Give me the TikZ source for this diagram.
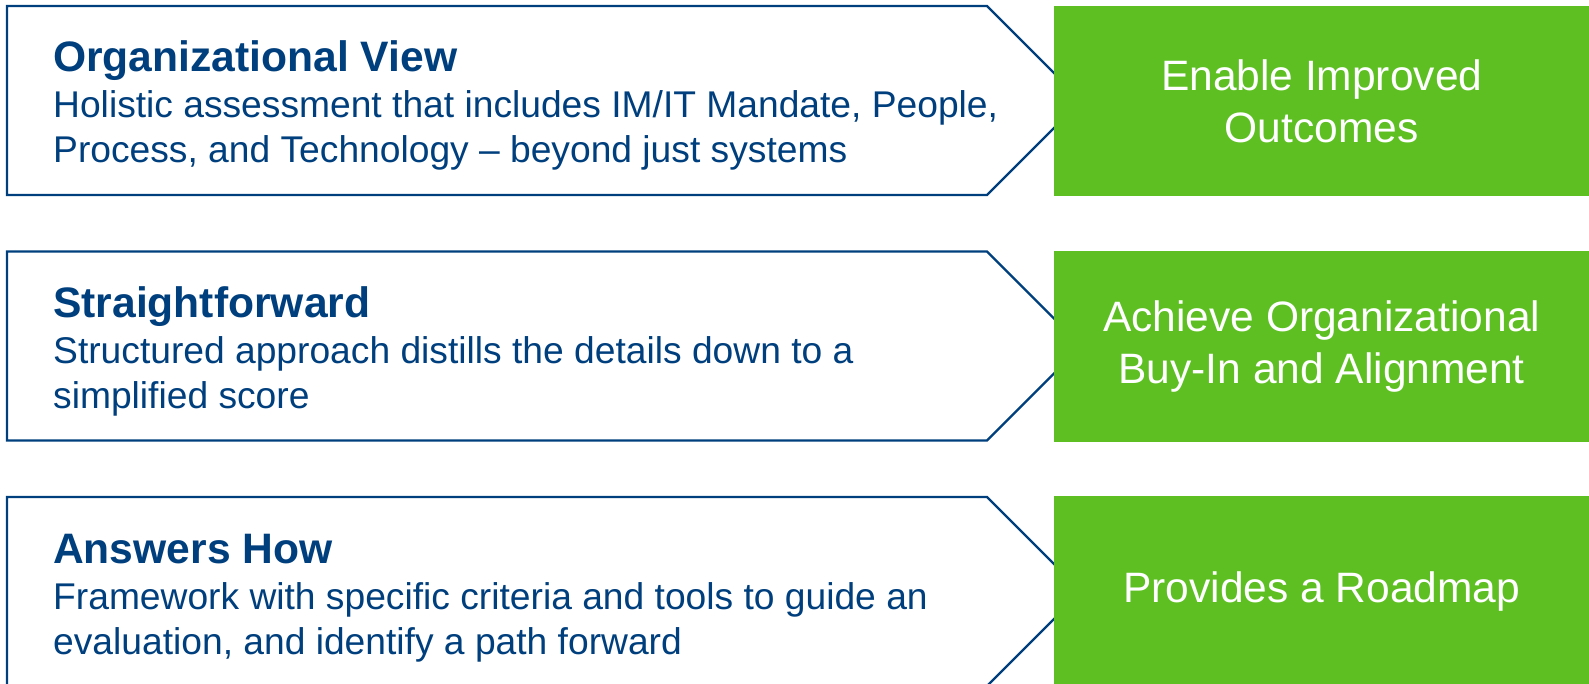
\documentclass[tikz,border=0pt]{standalone}
\usepackage{fontspec}
\setmainfont{Liberation Sans}
\definecolor{navy}{RGB}{0,63,125}
\definecolor{leaf}{RGB}{94,191,34}
\tikzset{
  chev/.style={draw=navy, line width=2.3pt, fill=white, line join=miter},
  ttl/.style={anchor=base west, inner sep=0pt, text=navy, font=\fontsize{42.6}{50}\selectfont\bfseries},
  bdy/.style={anchor=base west, inner sep=0pt, text=navy, font=\fontsize{37.2}{45}\selectfont},
  gbox/.style={anchor=north west, fill=leaf, inner sep=0pt, minimum width=535pt, minimum height=190pt,
    text=white, align=center, font=\fontsize{42.5}{52}\selectfont}
}
\begin{document}
\begin{tikzpicture}[x=1pt,y=-1pt]
\useasboundingbox (0,0) rectangle (1589,684);
% chevrons
\foreach \t in {6,251.5,497}{
  \draw[chev] (7,\t) -- (987,\t) -- (1081.5,\t+94.5) -- (987,\t+189) -- (7,\t+189) -- cycle;
}
% row 1
\node[ttl] (t1) at (53,72) {Organizational View};
\node[bdy] (b1a) at (53,118) {Holistic assessment that includes IM/IT Mandate, People,};
\node[bdy] (b1b) at (53,163) {Process, and Technology – beyond just systems};
% row 2
\node[ttl] (t2) at (53,317.5) {Straightforward};
\node[bdy] (b2a) at (53,363.5) {Structured approach distills the details down to a};
\node[bdy] (b2b) at (53,408.5) {simplified score};
% row 3
\node[ttl] (t3) at (53,563) {Answers How};
\node[bdy] (b3a) at (53,609) {Framework with specific criteria and tools to guide an};
\node[bdy] (b3b) at (53,654) {evaluation, and identify a path forward};
% green boxes
\node[gbox] (g1) at (1054,6) {Enable Improved\\Outcomes};
\node[gbox, minimum height=191pt] (g2) at (1054,251) {Achieve Organizational\\Buy-In and Alignment};
\node[gbox] (g3) at (1054,496) {Provides a Roadmap};
\end{tikzpicture}
\end{document}
